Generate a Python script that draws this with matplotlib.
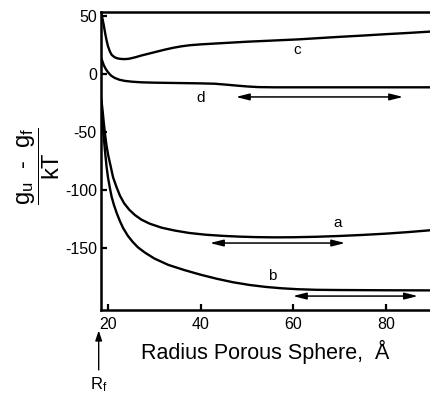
import matplotlib
matplotlib.use('Agg')
import matplotlib.pyplot as plt

plt.rcParams['font.family'] = ['Liberation Sans', 'DejaVu Sans']
plt.rcParams['mathtext.fontset'] = 'custom'
plt.rcParams['mathtext.rm'] = 'Liberation Sans'
plt.rcParams['mathtext.sf'] = 'Liberation Sans'
plt.rcParams['mathtext.it'] = 'Liberation Sans'
plt.rcParams['axes.unicode_minus'] = False

# curves (radius in Angstrom, free energy in kT)
c_x = [18.5, 18.8, 19.1, 19.4, 19.7, 20.0, 20.4, 20.8, 21.4, 22.0, 22.7, 23.5, 24.3, 25.0, 26.0,
       27.3, 29.0, 30.5, 32.2, 34.0, 35.8, 37.7, 40.0, 43.0, 46.5, 50.0, 55.0, 61.0, 65.5, 70.0,
       75.0, 80.0, 85.0, 89.5]
c_y = [52, 48, 42, 35, 29, 24, 19.5, 16.5, 14.5, 13.5, 13, 12.8, 13, 13.5, 14.5,
       16, 17.7, 19.2, 20.9, 22.5, 23.8, 24.8, 25.5, 26.2, 27, 27.8, 28.7, 29.8, 30.9, 32,
       33.1, 34.3, 35.4, 36.5]

d_x = [18.5, 18.8, 19.1, 19.5, 20.0, 20.7, 21.5, 22.5, 23.7, 25.3, 27.3, 30.0, 35.0, 40.0,
       43.0, 45.5, 48.0, 50.2, 52.4, 56.0, 89.5]
d_y = [14, 11, 7.5, 4.5, 1.5, -1.5, -3.5, -5, -6, -6.7, -7.2, -7.5, -7.8, -8.1,
       -8.4, -9.2, -10.1, -10.8, -11.3, -11.5, -11.5]

a_x = [18.5, 18.8, 19.1, 19.4, 19.7, 20.1, 20.5, 21.1, 21.8, 22.6, 23.5, 24.6, 25.8, 27.2,
       29.0, 31.6, 34.5, 37.5, 41.0, 44.7, 48.5, 52.0, 56.0, 60.0, 65.0, 70.0, 75.0, 80.0,
       85.0, 89.5]
a_y = [-20, -30, -42, -53, -62, -71, -78, -89, -97, -105, -111.5, -117, -121.5, -125.5,
       -129, -132.5, -135, -137, -138.5, -139.5, -140.2, -140.6, -140.8, -140.7, -140.3,
       -139.6, -138.7, -137.6, -136.2, -134.7]

b_x = [18.5, 18.8, 19.1, 19.4, 19.7, 20.0, 20.4, 20.8, 21.3, 21.9, 22.6, 23.3, 24.3, 25.4,
       26.5, 28.0, 30.0, 33.0, 36.5, 40.0, 43.5, 47.0, 50.5, 54.0, 57.5, 61.0, 65.0, 70.0,
       80.0, 89.5]
b_y = [-22, -38, -55, -68, -80, -89, -98, -106, -113, -120, -127, -133, -139.5, -145,
       -149.5, -154, -159, -164.5, -169, -173, -176.5, -179.5, -181.8, -183.5, -184.7,
       -185.5, -186, -186.2, -186.4, -186.5]

# double arrows (x_start, x_end, y)
arrow_a = (42.0, 71.2, -145.7)
arrow_b = (59.9, 86.9, -191.4)
arrow_d = (47.6, 83.7, -19.8)

curve_labels = ['a', 'b', 'c', 'd']
label_x = [69.6, 55.4, 60.8, 39.9]
label_y = [-128.4, -174, 20.7, -20.7]

x_ticks = [20, 40, 60, 80]
y_ticks = [50, 0, -50, -100, -150]

fig = plt.figure(figsize=(4.3, 3.95), dpi=100)
ax = fig.add_axes([0.2349, 0.2152, 0.7651, 0.7544])

for xs, ys in [(a_x, a_y), (b_x, b_y), (c_x, c_y), (d_x, d_y)]:
    ax.plot(xs, ys, color='black', lw=1.7, solid_capstyle='round', solid_joinstyle='round')

for x0, x1, yy in [arrow_a, arrow_b, arrow_d]:
    ax.annotate('', xy=(x1, yy), xytext=(x0, yy),
                arrowprops=dict(arrowstyle='<|-|>,head_length=0.8,head_width=0.2',
                                color='black', lw=1.1, shrinkA=0, shrinkB=0))

for lab, lx, ly in zip(curve_labels, label_x, label_y):
    ax.text(lx, ly, lab, fontsize=11, ha='center', va='center')

ax.set_xlim(18.5, 89.5)
ax.set_ylim(-203.4, 53.4)
ax.set_xticks(x_ticks)
ax.set_yticks(y_ticks)
ax.tick_params(direction='in', length=4.5, width=1.6, labelsize=11.5, color='black')
ax.tick_params(axis='x', pad=5)
ax.tick_params(axis='y', pad=3)
ax.spines['right'].set_visible(False)
for s in ['left', 'bottom', 'top']:
    ax.spines[s].set_linewidth(1.8)

ax.set_xlabel('Radius Porous Sphere,  Å', fontsize=15.5, labelpad=6)
fig.text(0.09, 0.58, r'$\dfrac{\mathrm{g_u}\ \ \text{-}\ \ \mathrm{g_f}}{\mathrm{kT}}$', rotation=90,
         fontsize=17, ha='center', va='center')

# R_f marker below the axis
ax.annotate('', xy=(18.0, -221), xytext=(18.0, -255),
            arrowprops=dict(arrowstyle='-|>,head_length=0.6,head_width=0.2',
                            color='black', lw=1.0, shrinkA=0, shrinkB=0),
            annotation_clip=False)
ax.text(18.0, -268, r'R$_\mathrm{f}$', fontsize=12, ha='center', va='center', clip_on=False)

fig.savefig('out.png', dpi=100)
